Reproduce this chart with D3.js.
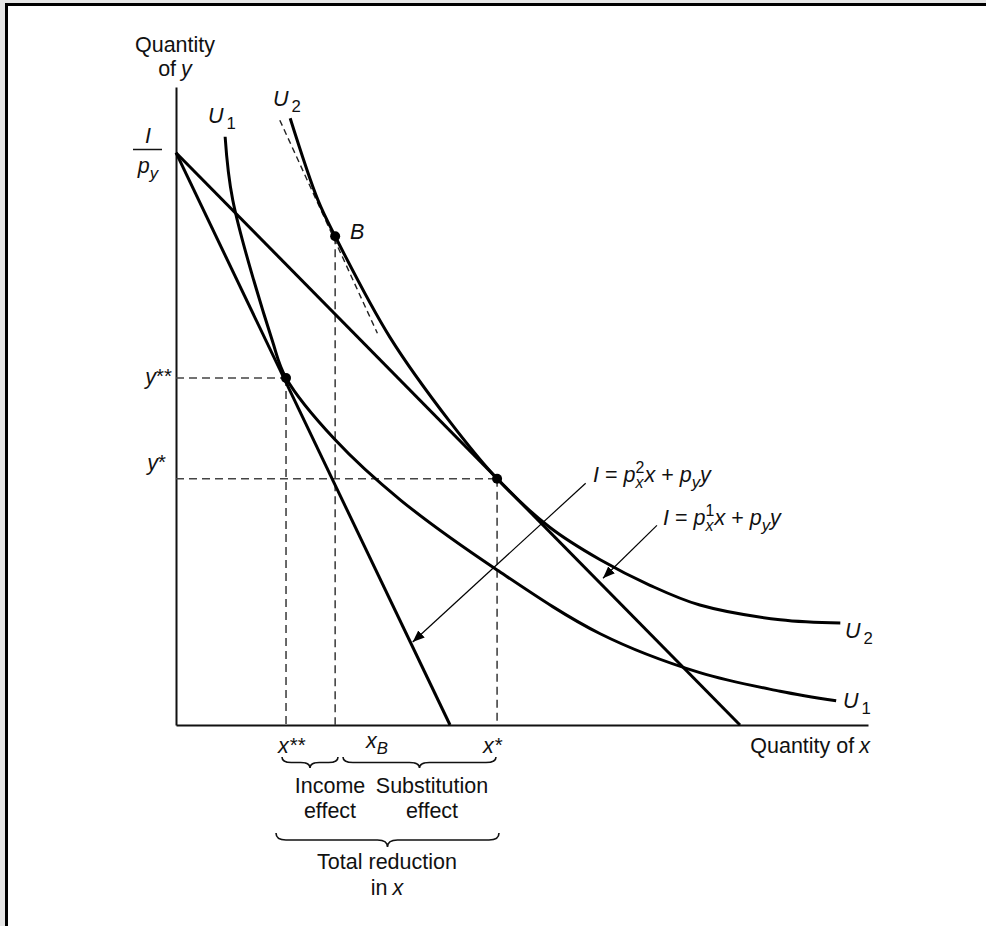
<!DOCTYPE html>
<html><head><meta charset="utf-8">
<script src="https://cdn.jsdelivr.net/npm/d3@7"></script>
<style>
html,body{margin:0;padding:0;background:#e6e6e6;}
svg{display:block;}
text{font-family:"Liberation Sans",Arial,Helvetica,sans-serif;fill:#111;}
</style></head>
<body><svg id="c" width="986" height="926"></svg>
<script>
// ---- data (units of x and y) ----
const incomeOverPy = 8.97;            // I / p_y
const budget1 = [[0, 8.97], [8.15, 0]];   // I = p_x^1 x + p_y y
const budget2 = [[0, 8.97], [3.96, 0]];   // I = p_x^2 x + p_y y
const U1 = [[0.71,9.22],[0.82,8.23],[1.39,6.03],[1.59,5.44],[2.30,4.47],[3.24,3.53],[4.64,2.43],[6.13,1.43],[7.57,0.82],[8.73,0.53],[9.54,0.38]];
const U2 = [[1.65,9.51],[2.05,8.23],[2.30,7.66],[3.09,6.08],[3.96,4.75],[4.64,3.86],[5.40,3.10],[6.13,2.59],[6.85,2.19],[7.57,1.88],[8.73,1.65],[9.60,1.60]];
const tangentB = [[1.50,9.48],[2.91,6.14]];
const pointB = [2.30, 7.66];
const pointSS = [1.59, 5.44];   // (x**, y**)
const pointS = [4.64, 3.86];    // (x*, y*)
const arrow1 = [[5.92,3.79],[3.42,1.30]];
const arrow2 = [[6.95,3.13],[6.17,2.30]];

const svg = d3.select('#c');
// frame
svg.append('rect').attr('x',6.5).attr('y',4.5).attr('width',1000).attr('height',1000)
  .attr('fill','#fff').attr('stroke','#000').attr('stroke-width',3);

const x = d3.scaleLinear().domain([0,10]).range([176,868]);
const y = d3.scaleLinear().domain([0,10]).range([725,87]);

// axes
const gx = svg.append('g').attr('transform','translate(0,725)')
  .call(d3.axisBottom(x).tickValues([]).tickSizeOuter(0));
const gy = svg.append('g').attr('transform','translate(176,0)')
  .call(d3.axisLeft(y).tickValues([]).tickSizeOuter(0));
[gx,gy].forEach(g=>g.select('.domain').attr('stroke','#111').attr('stroke-width',2));

const line = d3.line().x(d=>x(d[0])).y(d=>y(d[1]));
const curve = d3.line().x(d=>x(d[0])).y(d=>y(d[1])).curve(d3.curveCatmullRom.alpha(0.5));

// dashed guides
const dash = (pts)=>svg.append('path').attr('d',line(pts)).attr('fill','none')
  .attr('stroke','#444').attr('stroke-width',1.6).attr('stroke-dasharray','8,5');
dash([[0,pointSS[1]],pointSS]); dash([pointSS,[pointSS[0],0]]);
dash([[0,pointS[1]],pointS]); dash([pointS,[pointS[0],0]]);
dash([pointB,[pointB[0],0]]);
svg.append('path').attr('d',line(tangentB)).attr('fill','none')
  .attr('stroke','#222').attr('stroke-width',1.4).attr('stroke-dasharray','6,4');

// budget lines & curves
[budget1,budget2].forEach(b=>svg.append('path').attr('d',line(b)).attr('fill','none')
  .attr('stroke','#000').attr('stroke-width',3));
[U1,U2].forEach(u=>svg.append('path').attr('d',curve(u)).attr('fill','none')
  .attr('stroke','#000').attr('stroke-width',3));

// points
[pointB,pointSS,pointS].forEach(p=>svg.append('circle').attr('cx',x(p[0])).attr('cy',y(p[1])).attr('r',5).attr('fill','#000'));

// arrows
svg.append('defs').append('marker').attr('id','ah').attr('viewBox','0 0 10 10')
  .attr('refX',10).attr('refY',5).attr('markerWidth',12).attr('markerHeight',12)
  .attr('markerUnits','userSpaceOnUse').attr('orient','auto')
  .append('path').attr('d','M0,1 L10,5 L0,9 Z').attr('fill','#000');
[arrow1,arrow2].forEach(a=>svg.append('path').attr('d',line(a)).attr('stroke','#000')
  .attr('stroke-width',1.2).attr('fill','none').attr('marker-end','url(#ah)'));

// rich text helper
const FS = 21.5;
function rich(px, py, parts, anchor='start'){
  const g = svg.append('g');
  let cx = 0; const sm = FS*0.78;
  const put = (t, it, size, dy, xx) => g.append('text').attr('x',xx).attr('y',dy)
      .style('font-size',size+'px').style('font-style',it?'italic':'normal').text(t);
  parts.forEach(p=>{
    if(p.gap!==undefined && p.t===undefined){cx+=p.gap;return;}
    if(p.stack){
      const a = put(p.stack[0].t,p.stack[0].i,sm*0.95,-FS*0.40,cx);
      const b = put(p.stack[1].t,p.stack[1].i,sm*0.95,FS*0.30,cx);
      cx += Math.max(a.node().getComputedTextLength(), b.node().getComputedTextLength());
      return;
    }
    if(p.star){
      const t = put(p.t,false,FS*0.95,-1,cx);
      cx += t.node().getComputedTextLength();
      return;
    }
    const dy = p.sub? FS*0.26 : p.sup? -FS*0.40 : 0;
    const t = put(p.t, p.i, (p.sub||p.sup)? sm : FS, dy, cx);
    cx += t.node().getComputedTextLength();
  });
  const shift = anchor==='middle'? -cx/2 : anchor==='end'? -cx : 0;
  g.attr('transform',`translate(${px+shift},${py})`);
  return g;
}

// axis titles
rich(175,52,[{t:'Quantity'}],'middle');
rich(175,76,[{t:'of'},{gap:5},{t:'y',i:true}],'middle');
rich(870,753,[{t:'Quantity of'},{gap:5},{t:'x',i:true}],'end');

// I / p_y
rich(148,143,[{t:'I',i:true}],'middle');
svg.append('line').attr('x1',133).attr('x2',162).attr('y1',149.5).attr('y2',149.5).attr('stroke','#111').attr('stroke-width',1.5);
rich(148,173,[{t:'p',i:true},{t:'y',i:true,sub:true}],'middle');

// curve labels
rich(208,123,[{t:'U',i:true},{gap:3},{t:'1',sub:true}]);
rich(273,106,[{t:'U',i:true},{gap:3},{t:'2',sub:true}]);
rich(845,638,[{t:'U',i:true},{gap:3},{t:'2',sub:true}]);
rich(843,708,[{t:'U',i:true},{gap:3},{t:'1',sub:true}]);
rich(350,239,[{t:'B',i:true}]);

// y labels
rich(172,384,[{t:'y',i:true},{t:'**',star:true}],'end');
rich(166,470,[{t:'y',i:true},{t:'*',star:true}],'end');

// x labels
rich(x(pointSS[0])-8,753,[{t:'x',i:true},{gap:1},{t:'**',star:true}]);
rich(366,748,[{t:'x',i:true},{t:'B',i:true,sub:true}]);
rich(x(pointS[0])-14,753,[{t:'x',i:true},{gap:1},{t:'*',star:true}]);

// equations
rich(593,482,[{t:'I',i:true},{gap:6},{t:'='},{gap:6},{t:'p',i:true},{stack:[{t:'2'},{t:'x',i:true}]},{t:'x',i:true},{gap:6},{t:'+'},{gap:6},{t:'p',i:true},{t:'y',i:true,sub:true},{t:'y',i:true}]);
rich(663,525,[{t:'I',i:true},{gap:6},{t:'='},{gap:6},{t:'p',i:true},{stack:[{t:'1'},{t:'x',i:true}]},{t:'x',i:true},{gap:6},{t:'+'},{gap:6},{t:'p',i:true},{t:'y',i:true,sub:true},{t:'y',i:true}]);

// braces
function brace(x1,x2,y0,h){
  const m=(x1+x2)/2, q=Math.min(10,(x2-x1)/6), yh=y0+h/2;
  return `M${x1},${y0} Q${x1},${yh} ${x1+q},${yh} L${m-q},${yh} Q${m},${yh} ${m},${y0+h} Q${m},${yh} ${m+q},${yh} L${x2-q},${yh} Q${x2},${yh} ${x2},${y0}`;
}
[[282,338,757,11],[343,496,757,11],[276,499,833,14]].forEach(b=>
  svg.append('path').attr('d',brace(...b)).attr('fill','none').attr('stroke','#111').attr('stroke-width',1.6));

rich(330,793,[{t:'Income'}],'middle');
rich(330,818,[{t:'effect'}],'middle');
rich(432,793,[{t:'Substitution'}],'middle');
rich(432,818,[{t:'effect'}],'middle');
rich(387,869,[{t:'Total reduction'}],'middle');
rich(387,895,[{t:'in'},{gap:5},{t:'x',i:true}],'middle');
</script></body></html>
